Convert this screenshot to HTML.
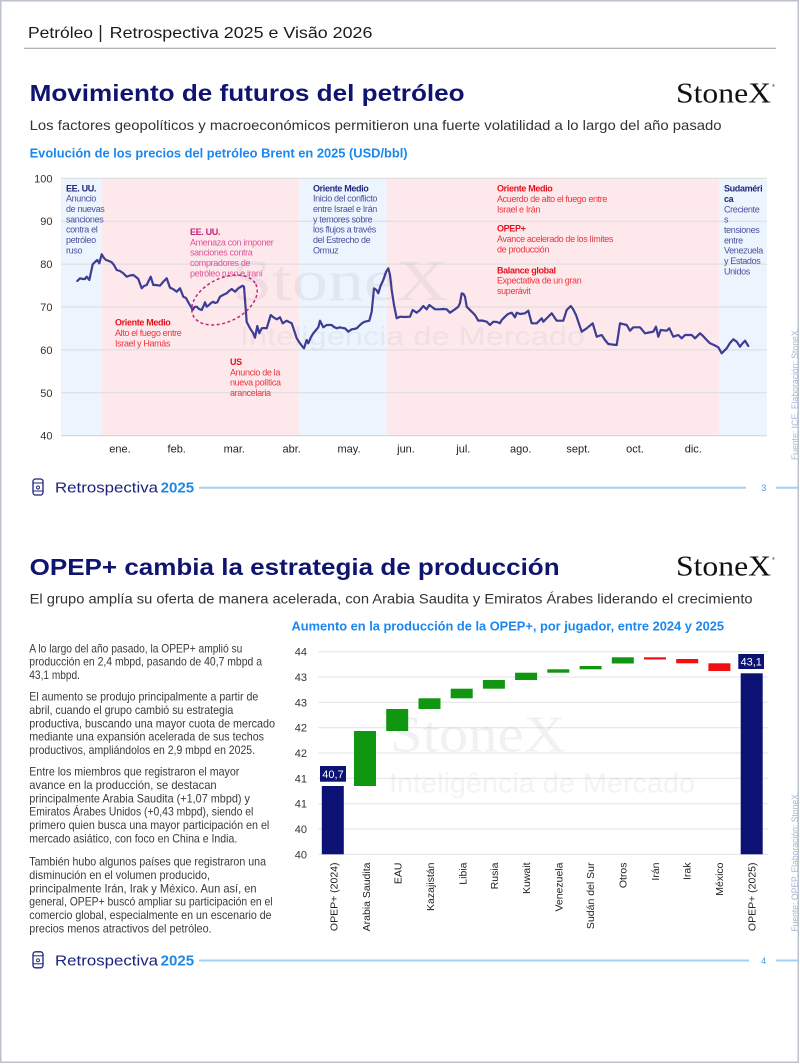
<!DOCTYPE html>
<html><head><meta charset="utf-8"><style>
html,body{margin:0;padding:0;background:#fff;}
svg{display:block;font-family:"Liberation Sans",sans-serif;}
.an{font-size:9px;letter-spacing:-0.35px;}
.anb{font-size:9px;letter-spacing:-0.35px;font-weight:bold;}
.yl{font-size:11px;fill:#333;}
.xl{font-size:11px;fill:#222;}
.bt{font-size:12px;fill:#3a3a3a;}
.cl{font-size:10.5px;fill:#222;}
</style></head><body>
<svg width="800" height="1064" viewBox="0 0 800 1064" xmlns="http://www.w3.org/2000/svg">
<rect x="0" y="0" width="800" height="1064" fill="#fff"/>
<rect x="0.75" y="0.75" width="797.5" height="1061.5" fill="none" stroke="#bcc2cb" stroke-width="1.5"/>

<!-- Header -->
<text x="28" y="38" font-size="16" fill="#1a1a1a" textLength="65" lengthAdjust="spacingAndGlyphs">Petróleo</text>
<line x1="100.5" y1="25" x2="100.5" y2="42" stroke="#222" stroke-width="1.4"/>
<text x="109.7" y="38" font-size="16" fill="#1a1a1a" textLength="262.7" lengthAdjust="spacingAndGlyphs">Retrospectiva 2025 e Visão 2026</text>
<line x1="24" y1="48.3" x2="776" y2="48.3" stroke="#9a9a9a" stroke-width="1"/>

<!-- Section 1 title -->
<text x="29.6" y="101" font-size="23.5" font-weight="bold" fill="#0f146f" textLength="435" lengthAdjust="spacingAndGlyphs">Movimiento de futuros del petróleo</text>
<text x="676" y="102.7" font-family="Liberation Serif,serif" font-size="29" fill="#111" textLength="95" lengthAdjust="spacingAndGlyphs">StoneX</text>
<text x="772" y="87" font-size="4" fill="#111">®</text>
<text x="29.6" y="130" font-size="14" fill="#333" textLength="692" lengthAdjust="spacingAndGlyphs">Los factores geopolíticos y macroeconómicos permitieron una fuerte volatilidad a lo largo del año pasado</text>
<text x="29.6" y="157.5" font-size="12.5" font-weight="bold" fill="#1a88f0" textLength="378" lengthAdjust="spacingAndGlyphs">Evolución de los precios del petróleo Brent en 2025 (USD/bbl)</text>

<!-- Chart 1 regions -->
<rect x="61" y="178.3" width="40.7" height="257.4" fill="#ecf4fd"/>
<rect x="101.7" y="178.3" width="197.6" height="257.4" fill="#fde9ec"/>
<rect x="299.3" y="178.3" width="87.4" height="257.4" fill="#ecf4fd"/>
<rect x="386.7" y="178.3" width="332.3" height="257.4" fill="#fde9ec"/>
<rect x="719" y="178.3" width="48" height="257.4" fill="#ecf4fd"/>

<!-- gridlines -->
<g stroke="#dcdcdc" stroke-width="1">
<line x1="61" y1="178.3" x2="767" y2="178.3"/>
<line x1="61" y1="221.2" x2="767" y2="221.2"/>
<line x1="61" y1="264.1" x2="767" y2="264.1"/>
<line x1="61" y1="307" x2="767" y2="307"/>
<line x1="61" y1="349.9" x2="767" y2="349.9"/>
<line x1="61" y1="392.8" x2="767" y2="392.8"/>
</g>
<line x1="61" y1="435.7" x2="767" y2="435.7" stroke="#d6d6d6" stroke-width="1.2"/>

<!-- y labels -->
<text class="yl" x="52.5" y="182.3" text-anchor="end">100</text>
<text class="yl" x="52.5" y="225.2" text-anchor="end">90</text>
<text class="yl" x="52.5" y="268.1" text-anchor="end">80</text>
<text class="yl" x="52.5" y="311" text-anchor="end">70</text>
<text class="yl" x="52.5" y="353.9" text-anchor="end">60</text>
<text class="yl" x="52.5" y="396.8" text-anchor="end">50</text>
<text class="yl" x="52.5" y="439.7" text-anchor="end">40</text>

<!-- x labels -->
<g class="xl" text-anchor="middle">
<text x="120" y="452.3">ene.</text>
<text x="176.7" y="452.3">feb.</text>
<text x="234.3" y="452.3">mar.</text>
<text x="291.7" y="452.3">abr.</text>
<text x="349" y="452.3">may.</text>
<text x="406" y="452.3">jun.</text>
<text x="463.3" y="452.3">jul.</text>
<text x="520.7" y="452.3">ago.</text>
<text x="578.3" y="452.3">sept.</text>
<text x="635" y="452.3">oct.</text>
<text x="693.3" y="452.3">dic.</text>
</g>

<!-- watermark 1 -->
<text x="232" y="300" font-family="Liberation Serif,serif" font-size="58" fill="#7a7a8c" fill-opacity="0.1" textLength="216" lengthAdjust="spacingAndGlyphs">StoneX</text>
<text x="240" y="345" font-size="26" fill="#7a7a8c" fill-opacity="0.09" textLength="345" lengthAdjust="spacingAndGlyphs">Inteligência de Mercado</text>

<!-- annotations -->
<g>
<text class="anb" x="66" y="191.3" fill="#23287a">EE. UU.</text>
<text class="an" x="66" y="201.6" fill="#4c4f9e">Anuncio</text>
<text class="an" x="66" y="212" fill="#4c4f9e">de nuevas</text>
<text class="an" x="66" y="222.3" fill="#4c4f9e">sanciones</text>
<text class="an" x="66" y="232.6" fill="#4c4f9e">contra el</text>
<text class="an" x="66" y="243" fill="#4c4f9e">petróleo</text>
<text class="an" x="66" y="253.3" fill="#4c4f9e">ruso</text>

<text class="anb" x="313" y="191.3" fill="#23287a">Oriente Medio</text>
<text class="an" x="313" y="201.6" fill="#4c4f9e">Inicio del conflicto</text>
<text class="an" x="313" y="212" fill="#4c4f9e">entre Israel e Irán</text>
<text class="an" x="313" y="222.3" fill="#4c4f9e">y temores sobre</text>
<text class="an" x="313" y="232.6" fill="#4c4f9e">los flujos a través</text>
<text class="an" x="313" y="243" fill="#4c4f9e">del Estrecho de</text>
<text class="an" x="313" y="253.3" fill="#4c4f9e">Ormuz</text>

<text class="anb" x="190" y="235" fill="#c6247a">EE. UU.</text>
<text class="an" x="190" y="245.3" fill="#e0519a">Amenaza con imponer</text>
<text class="an" x="190" y="255.7" fill="#e0519a">sanciones contra</text>
<text class="an" x="190" y="266" fill="#e0519a">compradores de</text>
<text class="an" x="190" y="276.3" fill="#e0519a">petróleo ruso e iraní</text>

<text class="anb" x="115" y="325.6" fill="#e8101a">Oriente Medio</text>
<text class="an" x="115" y="336" fill="#f0323c">Alto el fuego entre</text>
<text class="an" x="115" y="346.3" fill="#f0323c">Israel y Hamás</text>

<text class="anb" x="230" y="365" fill="#e8101a">US</text>
<text class="an" x="230" y="375.3" fill="#f0323c">Anuncio de la</text>
<text class="an" x="230" y="385.7" fill="#f0323c">nueva política</text>
<text class="an" x="230" y="396" fill="#f0323c">arancelaria</text>

<text class="anb" x="497" y="191.6" fill="#e8101a">Oriente Medio</text>
<text class="an" x="497" y="202" fill="#f0323c">Acuerdo de alto el fuego entre</text>
<text class="an" x="497" y="212.3" fill="#f0323c">Israel e Irán</text>
<text class="anb" x="497" y="231.6" fill="#e8101a">OPEP+</text>
<text class="an" x="497" y="242" fill="#f0323c">Avance acelerado de los límites</text>
<text class="an" x="497" y="252.3" fill="#f0323c">de producción</text>
<text class="anb" x="497" y="273.3" fill="#e8101a">Balance global</text>
<text class="an" x="497" y="283.6" fill="#f0323c">Expectativa de un gran</text>
<text class="an" x="497" y="294" fill="#f0323c">superávit</text>

<text class="anb" x="724" y="191.6" fill="#23287a">Sudaméri</text>
<text class="anb" x="724" y="201.9" fill="#23287a">ca</text>
<text class="an" x="724" y="212.3" fill="#4c4f9e">Creciente</text>
<text class="an" x="724" y="222.6" fill="#4c4f9e">s</text>
<text class="an" x="724" y="233" fill="#4c4f9e">tensiones</text>
<text class="an" x="724" y="243.3" fill="#4c4f9e">entre</text>
<text class="an" x="724" y="253.6" fill="#4c4f9e">Venezuela</text>
<text class="an" x="724" y="264" fill="#4c4f9e">y Estados</text>
<text class="an" x="724" y="274.3" fill="#4c4f9e">Unidos</text>
</g>

<!-- price line -->
<polyline fill="none" stroke="#3d3d94" stroke-width="2.2" stroke-linejoin="round" stroke-linecap="round" points="77.3,281 80,278.3 83,279 85,279 86.7,276.7 89.3,280 92.7,264.3 95,262 97.3,260 99.3,263.3 101.7,254.3 104,258 106,260 109,261 111.7,262.3 114,265 116.7,270 120,271 123,273 126.7,276.7 130,275.5 133.3,275 136,277 138.3,279 141.7,288.3 144,286 146.7,285 150.7,276.7 153.3,285 156,285 160,285.7 163,282 166.7,278.3 170,287.7 173,289 176.7,291.7 180,288.3 183.3,296.7 186,298 188.3,302.3 190.5,306 192.7,310 194.5,307 196.7,306.7 199,309 201.7,310 204,305 205,302.3 206.7,306.7 209,305 211,303 213.3,301.7 215,303 217.3,302.3 220,296.7 223,295 226.7,293.3 229,291 231.7,289 235,291.7 238.3,288.3 240.5,287 242.7,285.7 244,286.7 246.7,322 250,328.3 253.3,333.3 255,337.7 257.3,326 259.3,333.3 261.7,328.3 264,328 266.7,328.3 270.7,315 273,317 276.7,319.3 280,317.3 282.7,323.3 286.7,320.7 289,322 291.7,323.3 294,330 296.7,338.3 300,343.3 302,346 304,348.3 306.7,340 308.3,343.3 311,337 313.3,333.3 316,330 318.3,327.3 320,320.7 323.3,327.3 326.7,325 331.7,325 334,327 336.7,328.3 340,327.3 342.5,328 345,328.3 348.3,331.7 351.7,329.3 354,329 356.7,328.3 360,325 363,322.5 365,321.7 369.3,320.7 371.7,311.7 374,288.3 376.5,290 378.3,293.3 380.5,286 383.3,280 386,272 388.3,268.3 390,275 391.7,290 394,305 396.7,318.3 400,316.7 405,317 410,316.7 412.7,310 416.7,312.7 420,310 423.3,306 426.7,309.3 429.3,305 432,307 435,309.3 440,309.3 443,309 446.7,309.3 450,312.7 455,309.3 458.3,306.7 460,303 461.7,293.3 463.5,294 465,296.7 466.7,306.7 471.7,311.7 475,315 478.3,320.7 482,320.5 486.7,321.7 490,325 493.3,321.7 497,322 500,323.3 501.7,320 505,316.7 508,314 511.7,312.7 515,317.3 516.7,312.7 520,314 525,313.3 528.3,310.7 531.7,323.3 536.7,323.3 541.7,318.3 543.3,321.7 547,318 551.7,313.3 556.7,320.7 563.3,320.7 566.7,310 570.7,306 573,309 576,315 581.7,331.7 586.7,328.3 592.7,323.3 596.7,336.7 601.7,335 605,340 608.3,344 612,344.5 616.7,345 620,323.3 626.7,325 630,330.7 633.3,327.3 640,327.3 645,333.3 649,332.5 653.3,331.7 656,326.7 658.3,336.7 660.7,330 666.7,330.7 669.3,328.3 673.3,336.7 678.3,335 681.7,338.3 685,335 691.7,335 695,338.3 700,333.3 703,336 706.7,340 710,343.3 714,345 718.3,347.3 721.7,353.3 726.7,348.3 730,343 733.3,339.3 736.7,341.7 740,346.7 742,344 745,340.7 748.3,346"/>

<!-- dashed ellipse -->
<ellipse cx="224.5" cy="300" rx="35" ry="21.7" transform="rotate(-26.7 224.5 300)" fill="none" stroke="#c2267c" stroke-width="1.5" stroke-dasharray="3 2.5"/>

<!-- source 1 -->
<text transform="translate(798,460) rotate(-90)" font-size="9.5" fill="#a5b4d4" textLength="132" lengthAdjust="spacingAndGlyphs">Fuente: ICE. Elaboración: StoneX.</text>

<!-- Footer 1 -->
<g transform="translate(0,0)">
<rect x="33" y="479" width="10" height="16" rx="2.5" fill="none" stroke="#1b237c" stroke-width="1.3"/>
<line x1="33" y1="483" x2="43" y2="483" stroke="#1b237c" stroke-width="1"/>
<line x1="33" y1="491" x2="43" y2="491" stroke="#1b237c" stroke-width="1"/>
<circle cx="38" cy="487.5" r="1.5" fill="none" stroke="#1b237c" stroke-width="0.9"/>
<text x="55" y="492.5" font-size="14.5" fill="#1b237c" textLength="103" lengthAdjust="spacingAndGlyphs">Retrospectiva</text>
<text x="160.7" y="492.5" font-size="14.5" font-weight="bold" fill="#1e88e5" textLength="33.5" lengthAdjust="spacingAndGlyphs">2025</text>
<line x1="199" y1="487.7" x2="746" y2="487.7" stroke="#9fd0f8" stroke-width="2"/>
<text x="763.8" y="491" font-size="9" fill="#3d9be9" text-anchor="middle">3</text>
<line x1="776" y1="487.7" x2="798" y2="487.7" stroke="#9fd0f8" stroke-width="2"/>
</g>

<!-- Section 2 title -->
<text x="29.6" y="575" font-size="23.5" font-weight="bold" fill="#0f146f" textLength="530" lengthAdjust="spacingAndGlyphs">OPEP+ cambia la estrategia de producción</text>
<text x="676" y="575.5" font-family="Liberation Serif,serif" font-size="29" fill="#111" textLength="95" lengthAdjust="spacingAndGlyphs">StoneX</text>
<text x="772" y="560" font-size="4" fill="#111">®</text>
<text x="29.6" y="603.5" font-size="14" fill="#333" textLength="723" lengthAdjust="spacingAndGlyphs">El grupo amplía su oferta de manera acelerada, con Arabia Saudita y Emiratos Árabes liderando el crecimiento</text>
<text x="291.5" y="630.5" font-size="12.5" font-weight="bold" fill="#1a88f0" textLength="432.5" lengthAdjust="spacingAndGlyphs">Aumento en la producción de la OPEP+, por jugador, entre 2024 y 2025</text>

<!-- Body text -->
<g class="bt">
<text x="29.3" y="652.3" textLength="213" lengthAdjust="spacingAndGlyphs">A lo largo del año pasado, la OPEP+ amplió su</text>
<text x="29.3" y="665.6" textLength="232.7" lengthAdjust="spacingAndGlyphs">producción en 2,4 mbpd, pasando de 40,7 mbpd a</text>
<text x="29.3" y="679" textLength="50.7" lengthAdjust="spacingAndGlyphs">43,1 mbpd.</text>

<text x="29.3" y="700.7" textLength="229" lengthAdjust="spacingAndGlyphs">El aumento se produjo principalmente a partir de</text>
<text x="29.3" y="714" textLength="204" lengthAdjust="spacingAndGlyphs">abril, cuando el grupo cambió su estrategia</text>
<text x="29.3" y="727.3" textLength="245.7" lengthAdjust="spacingAndGlyphs">productiva, buscando una mayor cuota de mercado</text>
<text x="29.3" y="740.7" textLength="234.7" lengthAdjust="spacingAndGlyphs">mediante una expansión acelerada de sus techos</text>
<text x="29.3" y="754" textLength="225.7" lengthAdjust="spacingAndGlyphs">productivos, ampliándolos en 2,9 mbpd en 2025.</text>

<text x="29.3" y="775.7" textLength="210" lengthAdjust="spacingAndGlyphs">Entre los miembros que registraron el mayor</text>
<text x="29.3" y="789" textLength="187.3" lengthAdjust="spacingAndGlyphs">avance en la producción, se destacan</text>
<text x="29.3" y="802.3" textLength="220.7" lengthAdjust="spacingAndGlyphs">principalmente Arabia Saudita (+1,07 mbpd) y</text>
<text x="29.3" y="815.7" textLength="224" lengthAdjust="spacingAndGlyphs">Emiratos Árabes Unidos (+0,43 mbpd), siendo el</text>
<text x="29.3" y="829" textLength="240" lengthAdjust="spacingAndGlyphs">primero quien busca una mayor participación en el</text>
<text x="29.3" y="842.3" textLength="208" lengthAdjust="spacingAndGlyphs">mercado asiático, con foco en China e India.</text>

<text x="29.3" y="865.7" textLength="236.7" lengthAdjust="spacingAndGlyphs">También hubo algunos países que registraron una</text>
<text x="29.3" y="879" textLength="180.7" lengthAdjust="spacingAndGlyphs">disminución en el volumen producido,</text>
<text x="29.3" y="892.3" textLength="227.3" lengthAdjust="spacingAndGlyphs">principalmente Irán, Irak y México. Aun así, en</text>
<text x="29.3" y="905.7" textLength="243.3" lengthAdjust="spacingAndGlyphs">general, OPEP+ buscó ampliar su participación en el</text>
<text x="29.3" y="919" textLength="242.3" lengthAdjust="spacingAndGlyphs">comercio global, especialmente en un escenario de</text>
<text x="29.3" y="932.3" textLength="182.3" lengthAdjust="spacingAndGlyphs">precios menos atractivos del petróleo.</text>
</g>

<!-- Chart 2 gridlines -->
<g stroke="#e3e3e3" stroke-width="1">
<line x1="318.3" y1="651.7" x2="768.3" y2="651.7"/>
<line x1="318.3" y1="677" x2="768.3" y2="677"/>
<line x1="318.3" y1="702.3" x2="768.3" y2="702.3"/>
<line x1="318.3" y1="727.7" x2="768.3" y2="727.7"/>
<line x1="318.3" y1="753" x2="768.3" y2="753"/>
<line x1="318.3" y1="778.3" x2="768.3" y2="778.3"/>
<line x1="318.3" y1="803.7" x2="768.3" y2="803.7"/>
<line x1="318.3" y1="829" x2="768.3" y2="829"/>
<line x1="318.3" y1="854.3" x2="768.3" y2="854.3"/>
</g>
<g class="yl" text-anchor="end">
<text x="307" y="655.7">44</text>
<text x="307" y="681">43</text>
<text x="307" y="706.3">43</text>
<text x="307" y="731.7">42</text>
<text x="307" y="757">42</text>
<text x="307" y="782.3">41</text>
<text x="307" y="807.7">41</text>
<text x="307" y="833">40</text>
<text x="307" y="858.3">40</text>
</g>

<!-- watermark 2 -->
<text x="390" y="751.7" font-family="Liberation Serif,serif" font-size="52" fill="#7a7a8c" fill-opacity="0.1" textLength="176" lengthAdjust="spacingAndGlyphs">StoneX</text>
<text x="389" y="792.7" font-size="28" fill="#7a7a8c" fill-opacity="0.09" textLength="306" lengthAdjust="spacingAndGlyphs">Inteligência de Mercado</text>

<!-- bars -->
<rect x="321.8" y="786" width="22" height="68.3" fill="#0c1273"/>
<rect x="354" y="731" width="22" height="55" fill="#109610"/>
<rect x="386.2" y="709" width="22" height="22" fill="#109610"/>
<rect x="418.5" y="698.3" width="22" height="10.7" fill="#109610"/>
<rect x="450.7" y="688.7" width="22" height="9.6" fill="#109610"/>
<rect x="482.9" y="680" width="22" height="8.7" fill="#109610"/>
<rect x="515.1" y="672.7" width="22" height="7.3" fill="#109610"/>
<rect x="547.3" y="669.3" width="22" height="3.4" fill="#109610"/>
<rect x="579.6" y="666" width="22" height="3.3" fill="#109610"/>
<rect x="611.8" y="657.3" width="22" height="6.2" fill="#109610"/>
<rect x="644" y="657.3" width="22" height="2.2" fill="#f01010"/>
<rect x="676.2" y="659" width="22" height="4.3" fill="#f01010"/>
<rect x="708.4" y="663.3" width="22" height="7.7" fill="#f01010"/>
<rect x="740.7" y="673.3" width="22" height="181" fill="#0c1273"/>

<!-- value labels -->
<rect x="320" y="766" width="26" height="15.7" fill="#0c1273"/>
<text x="333" y="778" font-size="11" fill="#fff" text-anchor="middle">40,7</text>
<rect x="738.3" y="654" width="25.7" height="15" fill="#0c1273"/>
<text x="751.2" y="665.5" font-size="11" fill="#fff" text-anchor="middle">43,1</text>

<!-- x labels rotated -->
<g class="cl" text-anchor="end">
<text transform="translate(337.3,862.5) rotate(-90)">OPEP+ (2024)</text>
<text transform="translate(370,862.5) rotate(-90)">Arabia Saudita</text>
<text transform="translate(401.3,862.5) rotate(-90)">EAU</text>
<text transform="translate(434,862.5) rotate(-90)">Kazajistán</text>
<text transform="translate(466.3,862.5) rotate(-90)">Libia</text>
<text transform="translate(498,862.5) rotate(-90)">Rusia</text>
<text transform="translate(530,862.5) rotate(-90)">Kuwait</text>
<text transform="translate(562.3,862.5) rotate(-90)">Venezuela</text>
<text transform="translate(594,862.5) rotate(-90)">Sudán del Sur</text>
<text transform="translate(626.3,862.5) rotate(-90)">Otros</text>
<text transform="translate(659,862.5) rotate(-90)">Irán</text>
<text transform="translate(690.7,862.5) rotate(-90)">Irak</text>
<text transform="translate(723,862.5) rotate(-90)">México</text>
<text transform="translate(755.7,862.5) rotate(-90)">OPEP+ (2025)</text>
</g>

<!-- source 2 -->
<text transform="translate(798,931.7) rotate(-90)" font-size="9.5" fill="#a5b4d4" textLength="140" lengthAdjust="spacingAndGlyphs">Fuente: OPEP. Elaboración: StoneX.</text>

<!-- Footer 2 -->
<g transform="translate(0,472.8)">
<rect x="33" y="479" width="10" height="16" rx="2.5" fill="none" stroke="#1b237c" stroke-width="1.3"/>
<line x1="33" y1="483" x2="43" y2="483" stroke="#1b237c" stroke-width="1"/>
<line x1="33" y1="491" x2="43" y2="491" stroke="#1b237c" stroke-width="1"/>
<circle cx="38" cy="487.5" r="1.5" fill="none" stroke="#1b237c" stroke-width="0.9"/>
<text x="55" y="492.5" font-size="14.5" fill="#1b237c" textLength="103" lengthAdjust="spacingAndGlyphs">Retrospectiva</text>
<text x="160.7" y="492.5" font-size="14.5" font-weight="bold" fill="#1e88e5" textLength="33.5" lengthAdjust="spacingAndGlyphs">2025</text>
<line x1="199" y1="487.7" x2="749" y2="487.7" stroke="#9fd0f8" stroke-width="2"/>
<text x="763.5" y="491" font-size="9" fill="#3d9be9" text-anchor="middle">4</text>
<line x1="776" y1="487.7" x2="798" y2="487.7" stroke="#9fd0f8" stroke-width="2"/>
</g>
</svg>
</body></html>
